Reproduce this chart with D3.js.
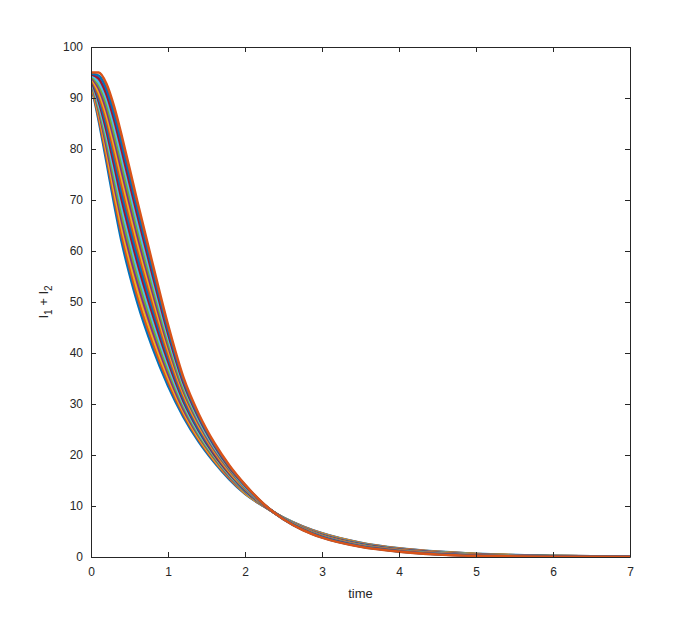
<!DOCTYPE html>
<html>
<head>
<meta charset="utf-8">
<script src="https://cdn.jsdelivr.net/npm/d3@7"></script>
<style>
  html, body { margin: 0; padding: 0; background: #fff; }
  svg { display: block; }
  text { font-family: "Liberation Sans", Arial, sans-serif; fill: #262626; }
</style>
</head>
<body>
<svg id="chart" width="697" height="627"></svg>
<script>
// time samples (x values)
const time = [0, 0.1, 0.2, 0.3, 0.4, 0.5, 0.6, 0.8, 1.0, 1.2, 1.4, 1.6, 1.8, 2.0, 2.25, 2.5, 2.75, 3.0, 3.5, 4.0, 4.5, 5.0, 6.0, 7.0];

// I1 + I2 for each run
const run01 = [92.7, 85.6, 77.6, 69.3, 61.7, 55.5, 50.0, 41.0, 33.6, 27.5, 22.6, 18.6, 15.2, 12.4, 9.90, 7.70, 6.00, 4.65, 2.80, 1.70, 1.05, 0.62, 0.23, 0.08];
const run02 = [92.9, 86.2, 78.6, 70.6, 63.1, 56.9, 51.3, 42.1, 34.4, 28.0, 23.0, 18.9, 15.4, 12.5, 9.93, 7.68, 5.95, 4.59, 2.75, 1.66, 1.01, 0.59, 0.22, 0.08];
const run03 = [93.0, 86.9, 79.6, 71.8, 64.5, 58.3, 52.6, 43.2, 35.2, 28.5, 23.3, 19.1, 15.6, 12.6, 9.95, 7.66, 5.91, 4.54, 2.69, 1.61, 0.98, 0.57, 0.21, 0.07];
const run04 = [93.2, 87.5, 80.6, 73.1, 65.9, 59.6, 54.0, 44.3, 36.0, 29.0, 23.7, 19.4, 15.7, 12.8, 9.98, 7.64, 5.86, 4.48, 2.64, 1.57, 0.94, 0.54, 0.19, 0.07];
const run05 = [93.3, 88.1, 81.7, 74.4, 67.2, 61.0, 55.3, 45.4, 36.8, 29.6, 24.0, 19.6, 15.9, 12.9, 10.01, 7.62, 5.81, 4.42, 2.59, 1.53, 0.90, 0.51, 0.18, 0.06];
const run06 = [93.5, 88.7, 82.7, 75.6, 68.6, 62.4, 56.6, 46.5, 37.6, 30.1, 24.4, 19.9, 16.1, 13.0, 10.03, 7.60, 5.77, 4.37, 2.53, 1.48, 0.87, 0.49, 0.17, 0.06];
const run07 = [93.6, 89.4, 83.7, 76.9, 70.0, 63.8, 57.9, 47.6, 38.4, 30.6, 24.8, 20.1, 16.3, 13.1, 10.06, 7.58, 5.72, 4.31, 2.48, 1.44, 0.83, 0.46, 0.16, 0.05];
const run08 = [93.8, 90.0, 84.7, 78.2, 71.4, 65.2, 59.2, 48.7, 39.2, 31.1, 25.1, 20.4, 16.5, 13.2, 10.09, 7.56, 5.67, 4.25, 2.43, 1.40, 0.79, 0.43, 0.15, 0.05];
const run09 = [93.9, 90.6, 85.7, 79.4, 72.8, 66.5, 60.6, 49.8, 39.9, 31.6, 25.5, 20.6, 16.6, 13.4, 10.11, 7.54, 5.63, 4.20, 2.37, 1.35, 0.76, 0.41, 0.13, 0.04];
const run10 = [94.1, 91.2, 86.7, 80.7, 74.2, 67.9, 61.9, 50.9, 40.7, 32.1, 25.8, 20.9, 16.8, 13.5, 10.14, 7.52, 5.58, 4.14, 2.32, 1.31, 0.72, 0.38, 0.12, 0.04];
const run11 = [94.2, 91.9, 87.7, 82.0, 75.6, 69.3, 63.2, 52.0, 41.5, 32.6, 26.2, 21.1, 17.0, 13.6, 10.17, 7.50, 5.53, 4.08, 2.27, 1.27, 0.68, 0.35, 0.11, 0.03];
const run12 = [94.4, 92.5, 88.8, 83.2, 77.0, 70.7, 64.5, 53.1, 42.3, 33.1, 26.6, 21.4, 17.2, 13.7, 10.19, 7.48, 5.49, 4.03, 2.21, 1.22, 0.65, 0.33, 0.10, 0.03];
const run13 = [94.5, 93.1, 89.8, 84.5, 78.3, 72.1, 65.8, 54.2, 43.1, 33.7, 26.9, 21.6, 17.4, 13.8, 10.22, 7.46, 5.44, 3.97, 2.16, 1.18, 0.61, 0.30, 0.09, 0.02];
const run14 = [94.7, 93.8, 90.8, 85.8, 79.7, 73.4, 67.2, 55.3, 43.9, 34.2, 27.3, 21.9, 17.5, 14.0, 10.25, 7.44, 5.39, 3.91, 2.11, 1.14, 0.57, 0.27, 0.07, 0.02];
const run15 = [94.8, 94.4, 91.8, 87.0, 81.1, 74.8, 68.5, 56.4, 44.7, 34.7, 27.6, 22.1, 17.7, 14.1, 10.27, 7.42, 5.35, 3.86, 2.05, 1.09, 0.54, 0.25, 0.06, 0.01];
const run16 = [95.0, 95.0, 92.8, 88.3, 82.5, 76.2, 69.8, 57.5, 45.5, 35.2, 28.0, 22.4, 17.9, 14.2, 10.30, 7.40, 5.30, 3.80, 2.00, 1.05, 0.50, 0.22, 0.05, 0.01];

const xTicks = [0, 1, 2, 3, 4, 5, 6, 7];
const yTicks = [0, 10, 20, 30, 40, 50, 60, 70, 80, 90, 100];
const colorOrder = ["#0072BD", "#D95319", "#EDB120", "#7E2F8E", "#77AC30", "#4DBEEE", "#A2142F"];

const runs = [run01, run02, run03, run04, run05, run06, run07, run08,
              run09, run10, run11, run12, run13, run14, run15, run16];

const svg = d3.select("#chart");
const L = 91, R = 630, T = 47, B = 557;

const x = d3.scaleLinear().domain([0, 7]).range([L, R]);
const y = d3.scaleLinear().domain([0, 100]).range([B, T]);

const clip = svg.append("defs").append("clipPath").attr("id", "plotclip");
clip.append("rect").attr("x", L).attr("y", T - 2).attr("width", R - L).attr("height", B - T + 2);

const line = d3.line()
  .x((d, i) => x(time[i]))
  .y(d => y(d))
  .curve(d3.curveMonotoneX);

const g = svg.append("g").attr("clip-path", "url(#plotclip)");
runs.forEach((r, k) => {
  g.append("path")
    .attr("d", line(r))
    .attr("fill", "none")
    .attr("stroke", colorOrder[k % colorOrder.length])
    .attr("stroke-width", 2.6)
    .attr("stroke-linejoin", "round");
});

// axes (MATLAB style: inward ticks, box)
const axColor = "#262626";
const fontSize = "12px";

const xAxisB = d3.axisBottom(x).tickValues(xTicks).tickSizeInner(-5).tickSizeOuter(0).tickPadding(10).tickFormat(d3.format("d"));
const xAxisT = d3.axisTop(x).tickValues(xTicks).tickSizeInner(-5).tickSizeOuter(0).tickFormat("");
const yAxisL = d3.axisLeft(y).tickValues(yTicks).tickSizeInner(-5).tickSizeOuter(0).tickPadding(8).tickFormat(d3.format("d"));
const yAxisR = d3.axisRight(y).tickValues(yTicks).tickSizeInner(-5).tickSizeOuter(0).tickFormat("");

function style(sel) {
  sel.selectAll("path").attr("stroke", axColor).attr("stroke-width", 1);
  sel.selectAll("line").attr("stroke", axColor).attr("stroke-width", 1);
  sel.selectAll("text").attr("fill", axColor).style("font-size", fontSize)
     .style("font-family", "'Liberation Sans', Arial, sans-serif");
}

svg.append("g").attr("transform", `translate(0,${B})`).call(xAxisB).call(style);
svg.append("g").attr("transform", `translate(0,${T})`).call(xAxisT).call(style);
svg.append("g").attr("transform", `translate(${L},0)`).call(yAxisL).call(style);
svg.append("g").attr("transform", `translate(${R},0)`).call(yAxisR).call(style);

// x label
svg.append("text")
  .attr("x", (L + R) / 2)
  .attr("y", 598)
  .attr("text-anchor", "middle")
  .style("font-size", "13px")
  .text("time");

// y label: I_1 + I_2
const yl = svg.append("text")
  .attr("transform", `translate(48,${(T + B) / 2}) rotate(-90)`)
  .attr("text-anchor", "middle")
  .style("font-size", "13px");
yl.append("tspan").text("I");
yl.append("tspan").attr("dy", 4).style("font-size", "10px").text("1");
yl.append("tspan").attr("dy", -4).text(" + I");
yl.append("tspan").attr("dy", 4).style("font-size", "10px").text("2");
</script>
</body>
</html>
